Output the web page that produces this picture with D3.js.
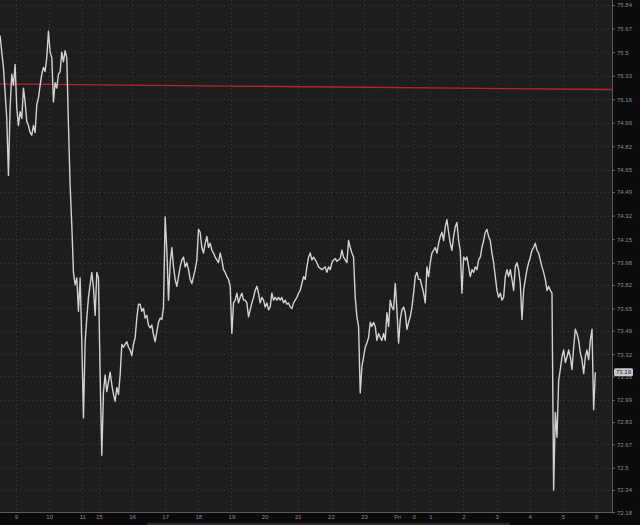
<!DOCTYPE html>
<html>
<head>
<meta charset="utf-8">
<script src="https://cdn.jsdelivr.net/npm/d3@7"></script>
<style>
  html, body { margin: 0; padding: 0; background: #0b0b0b; }
  svg { display: block; font-family: "Liberation Sans", Arial, sans-serif; }
</style>
</head>
<body>
<svg id="chart" width="640" height="525"></svg>
<script>
// === DATA ====================================================

// right-hand price axis labels
const yTickValues = [75.84, 75.67, 75.5, 75.33, 75.16, 74.99, 74.82, 74.65, 74.49, 74.32, 74.15,
    73.98, 73.82, 73.65, 73.49, 73.32, 73.16, 72.99, 72.83, 72.67, 72.5, 72.34, 72.18];

// time axis: trading hours since 9:00 (session gaps squeezed out)
const xTickHours = [0, 1, 2, 2.5, 3.5, 4.5, 5.5, 6.5, 7.5, 8.5, 9.5, 10.5, 11.5, 12, 12.5, 13.5, 14.5, 15.5, 16.5, 17.5];
const xTickLabels = ["9", "10", "11", "15", "16", "17", "18", "19", "20", "21", "22", "23", "Fri", "0", "1", "2", "3", "4", "5", "6"];

// price samples, ~3 min apart
const seriesStartHour = -0.48;
const seriesStepHours = 0.0503;
const prices = [
    // morning session
    75.62, 75.50, 75.39, 75.21, 75.02, 74.61, 75.10, 75.34, 75.26, 75.41,
    75.10, 74.97, 75.07, 75.02, 75.24, 75.14, 75.00, 74.97, 74.92, 74.90,
    74.97, 74.92, 75.12, 75.17, 75.26, 75.34, 75.39, 75.36, 75.46, 75.65,
    75.50, 75.46, 75.14, 75.28, 75.24, 75.34, 75.36, 75.50, 75.43, 75.51,
    75.46, 74.97, 74.54, 74.25, 73.91, 73.82, 73.87, 73.63, 73.87, 73.41,
    72.86, 73.41, 73.58, 73.73, 73.82, 73.91, 73.80, 73.60, 73.91, 73.87,
    73.17, 72.59, 73.05, 73.17, 73.05, 73.12, 73.19, 73.10, 73.03, 72.98,
    73.08, 73.03, 73.17, 73.39, 73.37, 73.39, 73.41, 73.37, 73.35, 73.31,
    73.39, 73.44, 73.58, 73.68, 73.68, 73.63, 73.65, 73.58, 73.60, 73.53,
    73.51, 73.53, 73.46, 73.41, 73.48, 73.55, 73.58,
    // afternoon / evening
    73.57, 73.66, 74.31, 74.07, 73.71, 73.98, 74.09, 73.95, 73.86, 73.81,
    73.88, 73.95, 74.00, 74.02, 73.95, 73.98, 73.93, 73.86, 73.83, 73.88,
    73.93, 74.00, 74.22, 74.20, 74.09, 74.05, 74.12, 74.17, 74.09, 74.12,
    74.07, 74.05, 74.02, 74.00, 73.98, 74.05, 74.00, 73.93, 73.91, 73.88,
    73.86, 73.81, 73.47, 73.69, 73.71, 73.76, 73.69, 73.73, 73.76, 73.71,
    73.71, 73.69, 73.59, 73.64, 73.69, 73.73, 73.78, 73.81, 73.76, 73.69,
    73.73, 73.71, 73.66, 73.69, 73.64, 73.66, 73.76, 73.71, 73.73, 73.71,
    73.73, 73.71, 73.73, 73.69, 73.71, 73.68, 73.69, 73.66, 73.65, 73.69,
    73.71, 73.73, 73.76, 73.78, 73.83, 73.88, 73.86, 73.95, 74.02, 74.05,
    74.00, 74.02, 74.00, 73.98, 73.95,
    // late evening / night
    73.94, 73.93, 73.94, 73.95, 73.91, 73.95, 73.93, 73.98, 74.00, 74.01,
    73.99, 74.00, 74.01, 74.07, 74.02, 74.00, 73.98, 74.14, 74.09, 74.05,
    74.02, 73.73, 73.59, 73.52, 73.04, 73.23, 73.30, 73.37, 73.40, 73.44,
    73.55, 73.52, 73.55, 73.52, 73.42, 73.47, 73.44, 73.42, 73.47, 73.42,
    73.62, 73.52, 73.71, 73.66, 73.64, 73.83, 73.64, 73.40, 73.57, 73.64,
    73.66, 73.62, 73.50, 73.55, 73.59, 73.66, 73.76, 73.88, 73.91, 73.86,
    73.86, 73.81, 73.76, 73.69, 73.95, 73.88, 73.98, 74.05, 74.07, 74.09,
    74.05, 74.12, 74.17, 74.20, 74.14, 74.24, 74.29, 74.20, 74.12, 74.07,
    74.17, 74.24, 74.27, 74.14, 74.07, 73.76, 74.02, 74.00, 74.02, 73.95,
    73.88, 73.93, 73.91, 73.95, 73.93, 74.00,
    // early morning
    74.02, 74.09, 74.14, 74.20, 74.22, 74.17, 74.14, 74.05, 73.98, 73.88,
    73.78, 73.73, 73.76, 73.71, 73.73, 73.88, 73.93, 73.88, 73.93, 73.86,
    73.78, 73.95, 73.98, 73.93, 73.83, 73.57, 73.78, 73.86, 73.93, 73.98,
    74.02, 74.07, 74.09, 74.12, 74.07, 74.05, 74.00, 73.95, 73.91, 73.86,
    73.78, 73.81, 73.78, 73.76, 72.34, 72.90, 72.72, 73.13, 73.21, 73.30,
    73.35, 73.26, 73.30, 73.35, 73.30, 73.21, 73.37, 73.50, 73.47, 73.42,
    73.33, 73.28, 73.18, 73.30, 73.35, 73.28, 73.42, 73.50, 72.92, 73.19
];

// red reference line (start / end value)
const refLine = [75.27, 75.23];
const lastPrice = 73.19;

// === LAYOUT ==================================================

const svg = d3.select("#chart");
const W = 640, H = 525;
const plotW = 612, plotH = 512;

const x = d3.scaleLinear().domain([-0.483, 17.98]).range([0, plotW]);
const y = d3.scaleLinear().domain([72.181, 75.876]).range([plotH, 0]);

svg.append("rect").attr("width", W).attr("height", H).attr("fill", "#0b0b0b");
svg.append("rect").attr("width", plotW).attr("height", plotH).attr("fill", "#1d1d1d");

svg.append("defs").append("clipPath").attr("id", "plot-clip")
    .append("rect").attr("width", plotW).attr("height", plotH);

// dotted grid
const grid = svg.append("g").attr("stroke", "#3c3c3c").attr("stroke-dasharray", "1,3");
grid.selectAll("line.h")
    .data(yTickValues)
    .enter()
    .append("line")
    .attr("class", "h")
    .attr("x1", 0).attr("x2", plotW)
    .attr("y1", d => Math.round(y(d)) + 0.5)
    .attr("y2", d => Math.round(y(d)) + 0.5);
grid.selectAll("line.v")
    .data(xTickHours)
    .enter()
    .append("line")
    .attr("class", "v")
    .attr("y1", 0).attr("y2", plotH)
    .attr("x1", d => Math.round(x(d)) + 0.5)
    .attr("x2", d => Math.round(x(d)) + 0.5);

const plot = svg.append("g").attr("clip-path", "url(#plot-clip)");

// red reference line
plot.append("line")
    .attr("x1", x.range()[0]).attr("x2", x.range()[1])
    .attr("y1", y(refLine[0])).attr("y2", y(refLine[1]))
    .attr("stroke", "#b8262b")
    .attr("stroke-width", 1.3);

// price line
const line = d3.line()
    .x((d, i) => x(seriesStartHour + i * seriesStepHours))
    .y(d => y(d));

plot.append("path")
    .datum(prices)
    .attr("d", line)
    .attr("fill", "none")
    .attr("stroke", "#d2d2d2")
    .attr("stroke-width", 1.4)
    .attr("stroke-linejoin", "round");

// frame
svg.append("line").attr("x1", plotW + 0.5).attr("x2", plotW + 0.5).attr("y1", 0).attr("y2", plotH + 0.5)
    .attr("stroke", "#5a5a5a");
svg.append("line").attr("x1", 0).attr("x2", plotW + 0.5).attr("y1", plotH + 0.5).attr("y2", plotH + 0.5)
    .attr("stroke", "#5a5a5a");

// right axis
const yAxis = d3.axisRight(y)
    .tickValues(yTickValues)
    .tickSize(3)
    .tickPadding(2)
    .tickFormat(d => String(d));

const yAxisG = svg.append("g")
    .attr("transform", `translate(${plotW},0)`)
    .call(yAxis);
yAxisG.select(".domain").remove();
yAxisG.selectAll(".tick line").attr("stroke", "#666");
yAxisG.selectAll(".tick text")
    .attr("fill", "#8c8c8c")
    .attr("font-size", 6)
    .attr("font-family", "Liberation Sans, Arial, sans-serif");

// bottom axis
const xAxis = d3.axisBottom(x)
    .tickValues(xTickHours)
    .tickSize(0)
    .tickPadding(3)
    .tickFormat((d, i) => xTickLabels[i]);

const xAxisG = svg.append("g")
    .attr("transform", `translate(0,${plotH})`)
    .call(xAxis);
xAxisG.select(".domain").remove();
xAxisG.selectAll(".tick text")
    .attr("fill", "#8c8c8c")
    .attr("font-size", 6)
    .attr("font-family", "Liberation Sans, Arial, sans-serif");

// scrollbar strip under time axis
svg.append("rect")
    .attr("x", 147).attr("y", 523)
    .attr("width", 363).attr("height", 2)
    .attr("fill", "#2c2c2c");

// last price marker (sits over the 73.16 label, as in the source)
const lastG = svg.append("g").attr("transform", `translate(${plotW + 2},${y(lastPrice)})`);
lastG.append("rect")
    .attr("x", 0).attr("y", -4)
    .attr("width", 19).attr("height", 8)
    .attr("rx", 1.5)
    .attr("fill", "#c9c9c9");
lastG.append("text")
    .attr("x", 9.5).attr("y", 2.1)
    .attr("text-anchor", "middle")
    .attr("font-size", 6)
    .attr("fill", "#222")
    .text(lastPrice.toFixed(2));
</script>
</body>
</html>
